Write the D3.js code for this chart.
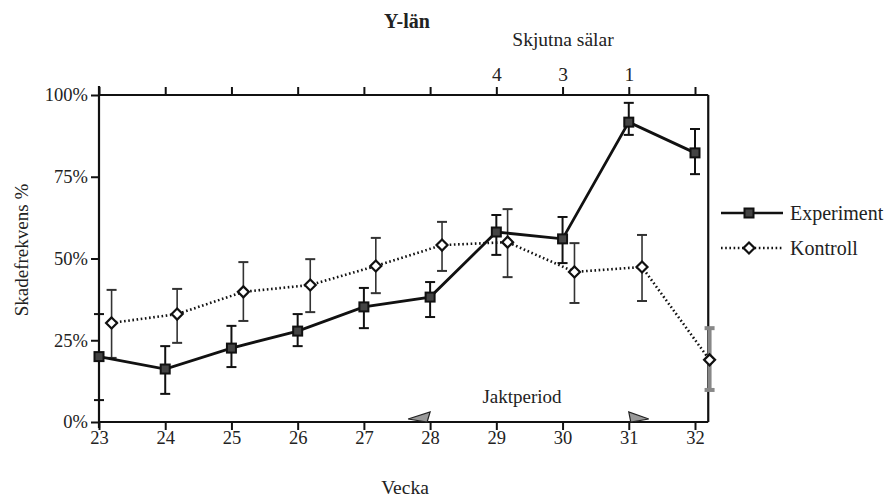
<!DOCTYPE html>
<html>
<head>
<meta charset="utf-8">
<script src="https://cdn.jsdelivr.net/npm/d3@7"></script>
<style>
  body { margin: 0; background: #fff; }
  svg { display: block; }
  .axis line { stroke: #111; stroke-width: 2; }
</style>
</head>
<body>
<svg id="chart" width="887" height="499"></svg>
<script>
// data
var weeks = [23, 24, 25, 26, 27, 28, 29, 30, 31, 32];
var expValues = [20, 16.2, 22.6, 27.8, 35.2, 38.2, 58.1, 56, 91.7, 82.3];
var expLow    = [6.7, 8.6, 16.8, 23.2, 28.7, 32.1, 51.1, 48.6, 87.8, 75.8];
var expHigh   = [33, 23.2, 29.4, 33, 41, 42.8, 63.3, 62.7, 97.6, 89.6];

var kontrollWeeks  = [23.19, 24.18, 25.18, 26.19, 27.18, 28.18, 29.17, 30.18, 31.2, 32.22];
var kontrollValues = [30.3, 33, 39.8, 41.9, 47.7, 54.1, 55, 45.9, 47.4, 19];
var kontrollLow    = [19.6, 24.2, 30.9, 33.6, 39.4, 46.2, 44.3, 36.4, 37, 9.8];
var kontrollHigh   = [40.4, 40.7, 48.9, 49.8, 56.3, 61.2, 65.1, 54.7, 57.2, 28.7];

var yTicks = [0, 25, 50, 75, 100];
var salar = {29: "4", 30: "3", 31: "1"};   // skjutna sälar per vecka
var jakt = [28, 31];

var FONT = "'Liberation Serif', 'Times New Roman', serif";
var svg = d3.select("#chart");

var x = d3.scaleLinear().domain([23, 32]).range([99, 695]);
var y = d3.scaleLinear().domain([0, 100]).range([422, 95]);
var xRight = x(32.2);

function label(px, py, str, size) {
  return svg.append("text").attr("x", px).attr("y", py).attr("text-anchor", "middle")
    .style("font-family", FONT).style("font-size", size + "px").style("fill", "#222").text(str);
}

// frame lines
svg.append("line").attr("x1", x(23)).attr("x2", x(23)).attr("y1", y(100) - 9).attr("y2", y(0) + 6)
  .attr("stroke", "#111").attr("stroke-width", 2.2);
svg.append("line").attr("x1", x(23)).attr("x2", xRight).attr("y1", y(100)).attr("y2", y(100))
  .attr("stroke", "#111").attr("stroke-width", 2.2);
svg.append("line").attr("x1", xRight).attr("x2", xRight).attr("y1", y(100)).attr("y2", y(0))
  .attr("stroke", "#111").attr("stroke-width", 2.2);
svg.append("line").attr("x1", x(23)).attr("x2", xRight).attr("y1", y(0)).attr("y2", y(0))
  .attr("stroke", "#111").attr("stroke-width", 2.2);

// axes
var gy = svg.append("g").attr("class", "axis").attr("transform", "translate(" + x(23) + ",0)")
  .call(d3.axisLeft(y).tickValues(yTicks).tickSize(8).tickPadding(3).tickFormat(function(d){ return d + "%"; }));
gy.select(".domain").remove();

var gx = svg.append("g").attr("class", "axis").attr("transform", "translate(0," + y(0) + ")")
  .call(d3.axisBottom(x).tickValues(weeks).tickSize(8).tickPadding(1).tickFormat(d3.format("d")));
gx.select(".domain").remove();

var gt = svg.append("g").attr("class", "axis").attr("transform", "translate(0," + y(100) + ")")
  .call(d3.axisTop(x).tickValues(weeks).tickSize(8).tickPadding(6).tickFormat(function(d){ return salar[d] || ""; }));
gt.select(".domain").remove();

svg.selectAll(".axis").attr("font-family", null).attr("font-size", null);
svg.selectAll(".axis text").style("font-family", FONT).style("font-size", "18.5px").style("fill", "#222");
gt.selectAll("text").style("font-size", "19.5px");

// titles
label(407, 28, "Y-län", 20).style("font-weight", "bold");
label(563, 46, "Skjutna sälar", 19.5);
label(0, 0, "Skadefrekvens %", 19).attr("transform", "translate(28,250) rotate(-90)");
label(405, 494, "Vecka", 19.5);

// jaktperiod arrows
label(522, 403, "Jaktperiod", 19);
var ay = y(0) - 3;
svg.append("path")
  .attr("d", "M" + (x(jakt[0]) - 22) + "," + ay + "L" + x(jakt[0]) + "," + (ay - 7) + "L" + (x(jakt[0]) - 3) + "," + (ay + 3) + "Z")
  .attr("fill", "#999").attr("stroke", "#222").attr("stroke-width", 1.2);
svg.append("path")
  .attr("d", "M" + (x(jakt[1]) + 20) + "," + ay + "L" + x(jakt[1]) + "," + (ay - 7) + "L" + (x(jakt[1]) + 2) + "," + (ay + 3) + "Z")
  .attr("fill", "#999").attr("stroke", "#222").attr("stroke-width", 1.2);

// error bars
function errorBars(xs, lo, hi, cls, color, width, cap) {
  var g = svg.append("g").attr("class", cls);
  xs.forEach(function(w, i) {
    var cx = x(w);
    g.append("line").attr("x1", cx).attr("x2", cx).attr("y1", y(lo[i])).attr("y2", y(hi[i]))
      .attr("stroke", color).attr("stroke-width", width);
    [lo[i], hi[i]].forEach(function(v) {
      g.append("line").attr("x1", cx - cap).attr("x2", cx + cap).attr("y1", y(v)).attr("y2", y(v))
        .attr("stroke", color).attr("stroke-width", 2);
    });
  });
}
errorBars(weeks, expLow, expHigh, "exp-err", "#111", 2, 5);
errorBars(kontrollWeeks, kontrollLow, kontrollHigh, "kon-err", "#333", 1.6, 5);
// last kontroll bar sits on the frame, drawn grey and wide
svg.select(".kon-err").selectAll("line").filter(function(d, i){ return i >= 27; })
  .attr("stroke", "#888").attr("stroke-width", 4);

// lines
var line = d3.line().x(function(d){ return x(d[0]); }).y(function(d){ return y(d[1]); });
svg.append("path").datum(d3.zip(kontrollWeeks, kontrollValues)).attr("d", line)
  .attr("fill", "none").attr("stroke", "#111").attr("stroke-width", 2.6)
  .attr("stroke-dasharray", "1.6,2.6");
svg.append("path").datum(d3.zip(weeks, expValues)).attr("d", line)
  .attr("fill", "none").attr("stroke", "#111").attr("stroke-width", 2.8);

// markers
function square(g, cx, cy) {
  g.append("rect").attr("x", cx - 4.5).attr("y", cy - 4.5).attr("width", 9).attr("height", 9)
    .attr("fill", "#444").attr("stroke", "#111").attr("stroke-width", 2);
}
function diamond(g, cx, cy) {
  g.append("path").attr("d", "M" + cx + "," + (cy - 5.5) + "L" + (cx + 5.5) + "," + cy + "L" + cx + "," + (cy + 5.5) + "L" + (cx - 5.5) + "," + cy + "Z")
    .attr("fill", "#fff").attr("stroke", "#111").attr("stroke-width", 2.2);
}
var mk = svg.append("g");
weeks.forEach(function(w, i){ square(mk, x(w), y(expValues[i])); });
kontrollWeeks.forEach(function(w, i){ diamond(mk, x(w), y(kontrollValues[i])); });

// legend
var lg = svg.append("g");
lg.append("line").attr("x1", 721).attr("x2", 783).attr("y1", 213).attr("y2", 213)
  .attr("stroke", "#111").attr("stroke-width", 2.4);
square(lg, 749, 213);
label(790, 220, "Experiment", 20).attr("text-anchor", "start");
lg.append("line").attr("x1", 721).attr("x2", 783).attr("y1", 248).attr("y2", 248)
  .attr("stroke", "#111").attr("stroke-width", 2.4).attr("stroke-dasharray", "1.6,2.6");
diamond(lg, 749, 248);
label(790, 255, "Kontroll", 20).attr("text-anchor", "start");
</script>
</body>
</html>
